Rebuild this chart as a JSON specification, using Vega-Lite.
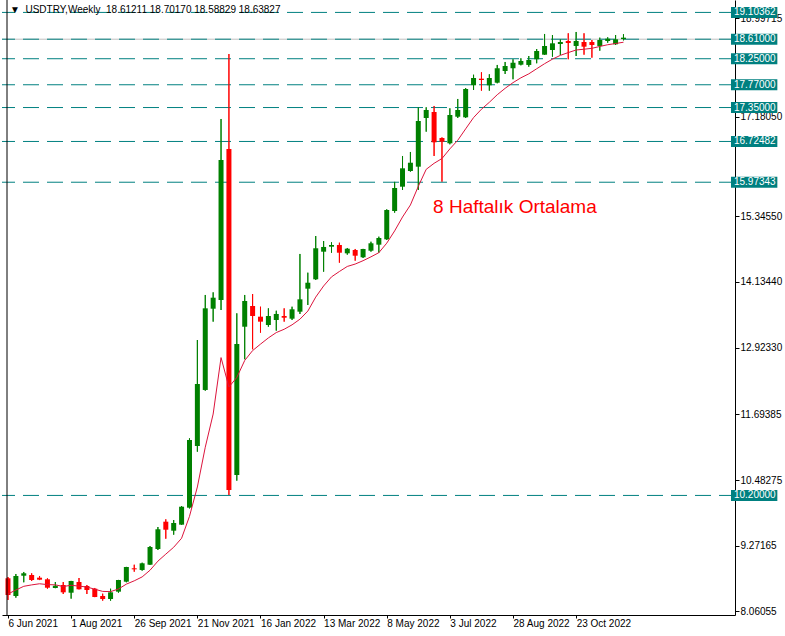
{
  "$schema": "https://vega.github.io/schema/vega-lite/v6.json",
  "width": 733,
  "height": 615,
  "autosize": {"type": "none"},
  "padding": {"left": 2, "top": 0, "right": 50, "bottom": 21},
  "background": "white",
  "config": {
    "view": {"stroke": null},
    "font": "Liberation Sans",
    "axis": {"labelOverlap": false, "labelFlush": false, "labelBound": false},
    "axisY": {"labelOverlap": false},
    "axisX": {"labelOverlap": false}
  },
  "datasets": {
    "candles": [
      {"d":"2021-06-06","o":8.673,"h":8.696,"l":8.273,"c":8.365,"e":8.383},
      {"d":"2021-06-13","o":8.346,"h":8.752,"l":8.315,"c":8.715,"e":8.457},
      {"d":"2021-06-20","o":8.720,"h":8.789,"l":8.599,"c":8.765,"e":8.525},
      {"d":"2021-06-27","o":8.733,"h":8.765,"l":8.623,"c":8.641,"e":8.551},
      {"d":"2021-07-04","o":8.684,"h":8.715,"l":8.640,"c":8.647,"e":8.572},
      {"d":"2021-07-11","o":8.654,"h":8.673,"l":8.481,"c":8.499,"e":8.556},
      {"d":"2021-07-18","o":8.494,"h":8.604,"l":8.490,"c":8.536,"e":8.552},
      {"d":"2021-07-25","o":8.549,"h":8.604,"l":8.383,"c":8.414,"e":8.521},
      {"d":"2021-08-01","o":8.407,"h":8.625,"l":8.297,"c":8.623,"e":8.544},
      {"d":"2021-08-08","o":8.604,"h":8.678,"l":8.468,"c":8.470,"e":8.528},
      {"d":"2021-08-15","o":8.531,"h":8.549,"l":8.383,"c":8.457,"e":8.512},
      {"d":"2021-08-22","o":8.481,"h":8.494,"l":8.325,"c":8.328,"e":8.471},
      {"d":"2021-08-29","o":8.346,"h":8.389,"l":8.260,"c":8.291,"e":8.431},
      {"d":"2021-09-05","o":8.291,"h":8.481,"l":8.260,"c":8.414,"e":8.427},
      {"d":"2021-09-12","o":8.426,"h":8.643,"l":8.407,"c":8.641,"e":8.475},
      {"d":"2021-09-19","o":8.610,"h":8.883,"l":8.599,"c":8.881,"e":8.565},
      {"d":"2021-09-26","o":8.857,"h":8.923,"l":8.794,"c":8.838,"e":8.626},
      {"d":"2021-10-03","o":8.826,"h":8.960,"l":8.813,"c":8.949,"e":8.698},
      {"d":"2021-10-10","o":8.923,"h":9.268,"l":8.920,"c":9.250,"e":8.821},
      {"d":"2021-10-17","o":9.213,"h":9.618,"l":9.194,"c":9.576,"e":8.989},
      {"d":"2021-10-24","o":9.716,"h":9.760,"l":9.402,"c":9.568,"e":9.118},
      {"d":"2021-10-31","o":9.550,"h":9.747,"l":9.476,"c":9.692,"e":9.245},
      {"d":"2021-11-07","o":9.661,"h":10.005,"l":9.658,"c":9.992,"e":9.411},
      {"d":"2021-11-14","o":9.974,"h":11.253,"l":9.960,"c":11.222,"e":9.814},
      {"d":"2021-11-21","o":11.111,"h":13.065,"l":11.006,"c":12.254,"e":10.356},
      {"d":"2021-11-28","o":12.144,"h":13.895,"l":12.130,"c":13.649,"e":11.088},
      {"d":"2021-12-05","o":13.642,"h":13.944,"l":13.403,"c":13.845,"e":11.700},
      {"d":"2021-12-12","o":13.802,"h":17.139,"l":13.618,"c":16.383,"e":12.741},
      {"d":"2021-12-19","o":16.586,"h":18.337,"l":10.208,"c":10.300,"e":12.199},
      {"d":"2021-12-26","o":10.577,"h":13.557,"l":10.472,"c":12.991,"e":12.375},
      {"d":"2022-01-02","o":13.310,"h":13.895,"l":12.710,"c":13.784,"e":12.688},
      {"d":"2022-01-09","o":13.692,"h":13.913,"l":12.894,"c":13.508,"e":12.870},
      {"d":"2022-01-16","o":13.495,"h":13.679,"l":13.200,"c":13.403,"e":12.989},
      {"d":"2022-01-23","o":13.342,"h":13.649,"l":13.310,"c":13.508,"e":13.104},
      {"d":"2022-01-30","o":13.434,"h":13.605,"l":13.237,"c":13.545,"e":13.202},
      {"d":"2022-02-06","o":13.508,"h":13.649,"l":13.403,"c":13.476,"e":13.263},
      {"d":"2022-02-13","o":13.458,"h":13.679,"l":13.434,"c":13.631,"e":13.345},
      {"d":"2022-02-20","o":13.587,"h":14.651,"l":13.545,"c":13.815,"e":13.449},
      {"d":"2022-02-27","o":14.011,"h":14.306,"l":13.710,"c":14.121,"e":13.598},
      {"d":"2022-03-06","o":14.184,"h":14.982,"l":14.171,"c":14.756,"e":13.856},
      {"d":"2022-03-13","o":14.693,"h":14.890,"l":14.324,"c":14.780,"e":14.061},
      {"d":"2022-03-20","o":14.785,"h":14.866,"l":14.674,"c":14.816,"e":14.229},
      {"d":"2022-03-27","o":14.816,"h":14.859,"l":14.490,"c":14.674,"e":14.328},
      {"d":"2022-04-03","o":14.663,"h":14.761,"l":14.638,"c":14.748,"e":14.421},
      {"d":"2022-04-10","o":14.724,"h":14.743,"l":14.527,"c":14.619,"e":14.465},
      {"d":"2022-04-17","o":14.590,"h":14.745,"l":14.577,"c":14.743,"e":14.527},
      {"d":"2022-04-24","o":14.711,"h":14.877,"l":14.693,"c":14.848,"e":14.598},
      {"d":"2022-05-01","o":14.822,"h":14.970,"l":14.674,"c":14.945,"e":14.675},
      {"d":"2022-05-08","o":14.921,"h":15.474,"l":14.908,"c":15.461,"e":14.850},
      {"d":"2022-05-15","o":15.443,"h":15.980,"l":15.412,"c":15.867,"e":15.076},
      {"d":"2022-05-22","o":15.891,"h":16.457,"l":15.830,"c":16.230,"e":15.332},
      {"d":"2022-05-29","o":16.180,"h":16.531,"l":16.168,"c":16.333,"e":15.554},
      {"d":"2022-06-05","o":16.260,"h":17.355,"l":15.830,"c":17.102,"e":15.898},
      {"d":"2022-06-12","o":17.157,"h":17.355,"l":16.905,"c":17.305,"e":16.211},
      {"d":"2022-06-19","o":17.268,"h":17.379,"l":16.457,"c":16.709,"e":16.322},
      {"d":"2022-06-26","o":16.789,"h":16.800,"l":15.983,"c":16.720,"e":16.410},
      {"d":"2022-07-03","o":16.691,"h":17.336,"l":16.672,"c":17.213,"e":16.588},
      {"d":"2022-07-10","o":17.181,"h":17.508,"l":17.157,"c":17.305,"e":16.747},
      {"d":"2022-07-17","o":17.170,"h":17.710,"l":17.157,"c":17.692,"e":16.957},
      {"d":"2022-07-24","o":17.760,"h":17.955,"l":17.674,"c":17.895,"e":17.165},
      {"d":"2022-07-31","o":17.882,"h":18.000,"l":17.661,"c":17.858,"e":17.319},
      {"d":"2022-08-07","o":17.760,"h":17.963,"l":17.661,"c":17.895,"e":17.447},
      {"d":"2022-08-14","o":17.808,"h":18.135,"l":17.797,"c":18.074,"e":17.586},
      {"d":"2022-08-21","o":18.024,"h":18.190,"l":17.969,"c":18.116,"e":17.704},
      {"d":"2022-08-28","o":18.074,"h":18.240,"l":17.871,"c":18.177,"e":17.809},
      {"d":"2022-09-04","o":18.140,"h":18.258,"l":18.128,"c":18.208,"e":17.898},
      {"d":"2022-09-11","o":18.135,"h":18.300,"l":18.103,"c":18.226,"e":17.971},
      {"d":"2022-09-18","o":18.240,"h":18.429,"l":18.166,"c":18.392,"e":18.065},
      {"d":"2022-09-25","o":18.324,"h":18.706,"l":18.320,"c":18.485,"e":18.158},
      {"d":"2022-10-02","o":18.411,"h":18.687,"l":18.287,"c":18.534,"e":18.242},
      {"d":"2022-10-09","o":18.521,"h":18.608,"l":18.319,"c":18.558,"e":18.312},
      {"d":"2022-10-16","o":18.577,"h":18.719,"l":18.240,"c":18.540,"e":18.363},
      {"d":"2022-10-23","o":18.485,"h":18.743,"l":18.300,"c":18.577,"e":18.411},
      {"d":"2022-10-30","o":18.558,"h":18.719,"l":18.324,"c":18.472,"e":18.425},
      {"d":"2022-11-06","o":18.558,"h":18.595,"l":18.269,"c":18.503,"e":18.442},
      {"d":"2022-11-13","o":18.485,"h":18.638,"l":18.398,"c":18.595,"e":18.476},
      {"d":"2022-11-20","o":18.577,"h":18.645,"l":18.545,"c":18.619,"e":18.508},
      {"d":"2022-11-27","o":18.516,"h":18.687,"l":18.503,"c":18.608,"e":18.530},
      {"d":"2022-12-04","o":18.61211,"h":18.70170,"l":18.58829,"c":18.63827,"e":18.554}
    ],
    "levels": [
      {"v": 19.10362}, {"v": 18.61}, {"v": 18.25}, {"v": 17.77},
      {"v": 17.35}, {"v": 16.72482}, {"v": 15.97343}, {"v": 10.2}
    ]
  },
  "layer": [
    {
      "data": {"name": "candles"},
      "mark": {"type": "rule", "strokeWidth": 1},
      "encoding": {
        "x": {
          "field": "d", "type": "temporal",
          "scale": {"type": "utc", "domain": [1622862000000, 1678276800000], "nice": false},
          "axis": {
            "title": null, "grid": false,
            "values": [1622937600000, 1627776000000, 1632614400000, 1637452800000, 1642291200000, 1647129600000, 1651968000000, 1656806400000, 1661644800000, 1666483200000],
            "labelExpr": "utcFormat(datum.value, '%-d %b %Y')",
            "labelAlign": "left", "labelBaseline": "top", "labelPadding": 0, "tickSize": 3,
            "labelFont": "Liberation Sans", "labelFontSize": 10, "labelColor": "black",
            "domainColor": "black", "tickColor": "black", "labelFlush": false, "labelOverlap": false, "labelBound": false
          }
        },
        "y": {
          "field": "l", "type": "quantitative",
          "scale": {"domain": [7.996, 19.3324], "nice": false, "zero": false},
          "axis": {
            "orient": "right", "title": null, "grid": false,
            "values": [8.06055, 8.6661, 9.27165, 9.8772, 10.48275, 11.0883, 11.69385, 12.31775, 12.9233, 13.52885, 14.1344, 14.73995, 15.3455, 16.57495, 17.1805, 18.3916, 18.99715],
            "labelExpr": "format(datum.value, '.5f')", "tickSize": 4, "labelPadding": 1,
            "labelFont": "Liberation Sans", "labelFontSize": 10, "labelColor": "black", "labelBaseline": "middle",
            "domainColor": "black", "tickColor": "black", "labelFlush": false, "labelOverlap": false, "labelBound": false
          }
        },
        "y2": {"field": "h"},
        "color": {"condition": {"test": "datum.c >= datum.o", "value": "#008000"}, "value": "#ff0000"}
      }
    },
    {
      "data": {"values": [{"v": 18.61}]},
      "mark": {"type": "rule", "color": "#c0c0c0", "strokeWidth": 1},
      "encoding": {
        "y": {"field": "v", "type": "quantitative", "scale": {"domain": [7.996, 19.3324], "nice": false, "zero": false}}
      }
    },
    {
      "data": {"name": "levels"},
      "mark": {"type": "rule", "color": "#008080", "strokeWidth": 1, "strokeDash": [16, 8]},
      "encoding": {
        "y": {"field": "v", "type": "quantitative", "scale": {"domain": [7.996, 19.3324], "nice": false, "zero": false}}
      }
    },
    {
      "data": {"name": "candles"},
      "mark": {"type": "rule", "strokeWidth": 1},
      "encoding": {
        "x": {"field": "d", "type": "temporal", "scale": {"type": "utc", "domain": [1622862000000, 1678276800000], "nice": false}},
        "y": {"field": "l", "type": "quantitative", "scale": {"domain": [7.996, 19.3324], "nice": false, "zero": false}},
        "y2": {"field": "h"},
        "color": {"condition": {"test": "datum.c >= datum.o", "value": "#008000"}, "value": "#ff0000"}
      }
    },
    {
      "data": {"name": "candles"},
      "mark": {"type": "bar", "size": 5},
      "encoding": {
        "x": {"field": "d", "type": "temporal", "scale": {"type": "utc", "domain": [1622862000000, 1678276800000], "nice": false}},
        "y": {"field": "o", "type": "quantitative", "scale": {"domain": [7.996, 19.3324], "nice": false, "zero": false}},
        "y2": {"field": "c"},
        "color": {"condition": {"test": "datum.c >= datum.o", "value": "#008000"}, "value": "#ff0000"}
      }
    },
    {
      "data": {"name": "candles"},
      "mark": {"type": "line", "color": "#dc143c", "strokeWidth": 1},
      "encoding": {
        "x": {"field": "d", "type": "temporal", "scale": {"type": "utc", "domain": [1622862000000, 1678276800000], "nice": false}},
        "y": {"field": "e", "type": "quantitative", "scale": {"domain": [7.996, 19.3324], "nice": false, "zero": false}}
      }
    },
    {
      "data": {"name": "levels"},
      "mark": {"type": "rule", "color": "#008080", "strokeWidth": 11, "strokeCap": "butt"},
      "encoding": {
        "x": {"datum": 1678352400000, "type": "temporal", "scale": {"type": "utc", "domain": [1622862000000, 1678276800000], "nice": false}},
        "x2": {"datum": 1681905600000},
        "y": {"field": "v", "type": "quantitative", "scale": {"domain": [7.996, 19.3324], "nice": false, "zero": false}}
      }
    },
    {
      "data": {"name": "levels"},
      "mark": {"type": "text", "align": "left", "baseline": "middle", "color": "white", "font": "Liberation Sans", "fontSize": 10},
      "encoding": {
        "x": {"datum": 1678579200000, "type": "temporal", "scale": {"type": "utc", "domain": [1622862000000, 1678276800000], "nice": false}},
        "y": {"field": "v", "type": "quantitative", "scale": {"domain": [7.996, 19.3324], "nice": false, "zero": false}},
        "text": {"field": "v", "type": "quantitative", "format": ".5f"}
      }
    },
    {
      "data": {"values": [{"t": "▼\u00a0\u00a0USDTRY,Weekly\u00a0\u00a018.61211\u00a018.70170\u00a018.58829\u00a018.63827"}]},
      "mark": {"type": "text", "align": "left", "baseline": "middle", "color": "black", "font": "Liberation Sans", "fontSize": 10, "dx": 3, "dy": 10},
      "encoding": {
        "x": {"datum": 1622862000000, "type": "temporal", "scale": {"type": "utc", "domain": [1622862000000, 1678276800000], "nice": false}},
        "y": {"datum": 19.3324, "type": "quantitative", "scale": {"domain": [7.996, 19.3324], "nice": false, "zero": false}},
        "text": {"field": "t"}
      }
    },
    {
      "data": {"values": [{"t": "8 Haftalık Ortalama"}]},
      "mark": {"type": "text", "align": "left", "baseline": "middle", "color": "#ff0000", "font": "Liberation Sans", "fontSize": 19, "dx": -1},
      "encoding": {
        "x": {"datum": 1655596800000, "type": "temporal", "scale": {"type": "utc", "domain": [1622862000000, 1678276800000], "nice": false}},
        "y": {"datum": 15.517, "type": "quantitative", "scale": {"domain": [7.996, 19.3324], "nice": false, "zero": false}},
        "text": {"field": "t"}
      }
    },
    {
      "data": {"values": [{}]},
      "mark": {"type": "rule", "color": "black", "strokeWidth": 1},
      "encoding": {
        "x": {"datum": 1622862000000, "type": "temporal", "scale": {"type": "utc", "domain": [1622862000000, 1678276800000], "nice": false}}
      }
    }
  ]
}
